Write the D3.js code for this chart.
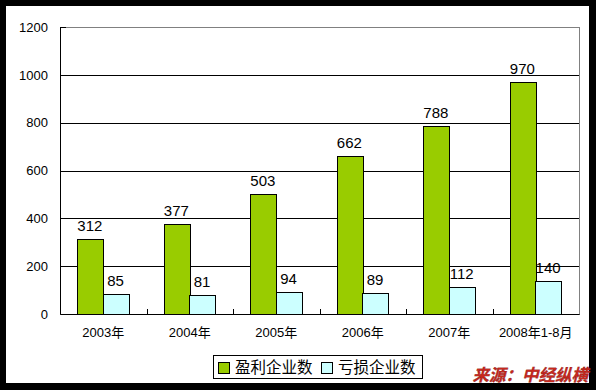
<!DOCTYPE html>
<html>
<head>
<meta charset="utf-8">
<script src="https://cdn.jsdelivr.net/npm/d3@7"></script>
<style>
  body { margin: 0; padding: 0; background: #fff; }
  svg { display: block; }
</style>
</head>
<body>
<div id="chart"></div>
<script>
// data
var categories = ["2003年", "2004年", "2005年", "2006年", "2007年", "2008年1-8月"];
var profitValues = [312, 377, 503, 662, 788, 970];
var lossValues = [85, 81, 94, 89, 112, 140];
var seriesNames = ["盈利企业数", "亏损企业数"];
var yTicks = [0, 200, 400, 600, 800, 1000, 1200];
var colors = ["#99CC00", "#CCFFFF"];

var W = 596, H = 390;
var margin = { top: 27, right: 17, bottom: 76, left: 60 };
var width = 579 - margin.left,
  height = 314 - margin.top;

var svg = d3.select("#chart").append("svg")
  .attr("width", W)
  .attr("height", H);

// black frame
svg.append("rect").attr("width", W).attr("height", H).attr("fill", "#000");
svg.append("rect").attr("x", 6).attr("y", 6).attr("width", 583).attr("height", 377).attr("fill", "#fff");

var g = svg.append("g")
  .attr("transform", "translate(" + margin.left + "," + margin.top + ")");

var x0 = d3.scaleBand().domain(categories).range([0, width]).paddingInner(0).paddingOuter(0);
var x1 = d3.scaleBand().domain([0, 1]).range([17, x0.bandwidth() - 18]);
var y = d3.scaleLinear().domain([0, 1200]).range([height, 0]);

// plot border (grey top/right)
g.append("rect")
  .attr("width", width).attr("height", height)
  .attr("fill", "none").attr("stroke", "#808080").attr("stroke-width", 1)
  .attr("shape-rendering", "crispEdges");

// gridlines
g.selectAll(".grid").data(yTicks.filter(function (d) { return d > 0 && d < 1200; }))
  .enter().append("line")
  .attr("x1", 0).attr("x2", width)
  .attr("y1", function (d) { return Math.round(y(d)) + 0.5; })
  .attr("y2", function (d) { return Math.round(y(d)) + 0.5; })
  .attr("stroke", "#000").attr("stroke-width", 1);

// y axis
var yAxis = d3.axisLeft(y).tickValues(yTicks).tickFormat(d3.format("d")).tickSize(0).tickPadding(12);
var ya = g.append("g").call(yAxis);
ya.select(".domain").attr("stroke", "#000");
ya.selectAll("text")
  .attr("font-family", "'Liberation Sans', Arial, sans-serif")
  .attr("font-size", "13px")
  .attr("fill", "#000");
g.append("line").attr("x1", 0).attr("x2", 6).attr("y1", 0.5).attr("y2", 0.5).attr("stroke", "#000");

// x axis
var xAxis = d3.axisBottom(x0).tickSize(0).tickPadding(14);
var xa = g.append("g").attr("transform", "translate(0," + height + ")").call(xAxis);
xa.select(".domain").attr("stroke", "#000");
xa.selectAll("text")
  .attr("font-family", "'Liberation Sans', 'Noto Sans CJK SC', sans-serif")
  .attr("font-size", "13px")
  .attr("fill", "#000");

// category separator ticks (inside)
g.selectAll(".sep").data(categories.slice(1))
  .enter().append("line")
  .attr("x1", function (d) { return Math.round(x0(d)) + 0.5; })
  .attr("x2", function (d) { return Math.round(x0(d)) + 0.5; })
  .attr("y1", height - 5).attr("y2", height)
  .attr("stroke", "#000");

// bars
var series = [profitValues, lossValues];
series.forEach(function (vals, si) {
  var grp = g.append("g");
  grp.selectAll("rect").data(vals).enter().append("rect")
    .attr("x", function (d, i) { return Math.round(x0(categories[i]) + x1(si)) + 0.5; })
    .attr("y", function (d) { return Math.round(y(d)) + 0.5; })
    .attr("width", Math.round(x1.bandwidth()))
    .attr("height", function (d) { return Math.round(height - y(d)); })
    .attr("fill", colors[si])
    .attr("stroke", "#000").attr("stroke-width", 1);

  grp.selectAll("text").data(vals).enter().append("text")
    .attr("x", function (d, i) { return x0(categories[i]) + x1(si) + x1.bandwidth() / 2; })
    .attr("y", function (d) { return y(d) - 8; })
    .attr("text-anchor", "middle")
    .attr("font-family", "'Liberation Sans', Arial, sans-serif")
    .attr("font-size", "15px")
    .attr("fill", "#000")
    .text(function (d) { return d; });
});

// legend
var leg = svg.append("g");
leg.append("rect").attr("x", 213.5).attr("y", 355.5).attr("width", 209).attr("height", 23)
  .attr("fill", "#fff").attr("stroke", "#000");
var legX = [218, 321];
seriesNames.forEach(function (name, i) {
  leg.append("rect").attr("x", legX[i] + 0.5).attr("y", 362.5).attr("width", 11).attr("height", 11)
    .attr("fill", colors[i]).attr("stroke", "#000");
  leg.append("text").attr("x", legX[i] + 17).attr("y", 373)
    .attr("font-family", "'Noto Sans CJK SC', sans-serif")
    .attr("font-size", "15.5px")
    .attr("fill", "#000")
    .text(name);
});

// source note
svg.append("text")
  .attr("x", 588).attr("y", 381)
  .attr("text-anchor", "end")
  .attr("font-family", "'Noto Sans CJK SC', sans-serif")
  .attr("font-size", "16.5px")
  .attr("font-weight", "bold")
  .attr("font-style", "italic")
  .attr("fill", "#C8281E")
  .attr("stroke", "#7a1a14").attr("stroke-width", 0.3)
  .text("来源：中经纵横");
</script>
</body>
</html>
